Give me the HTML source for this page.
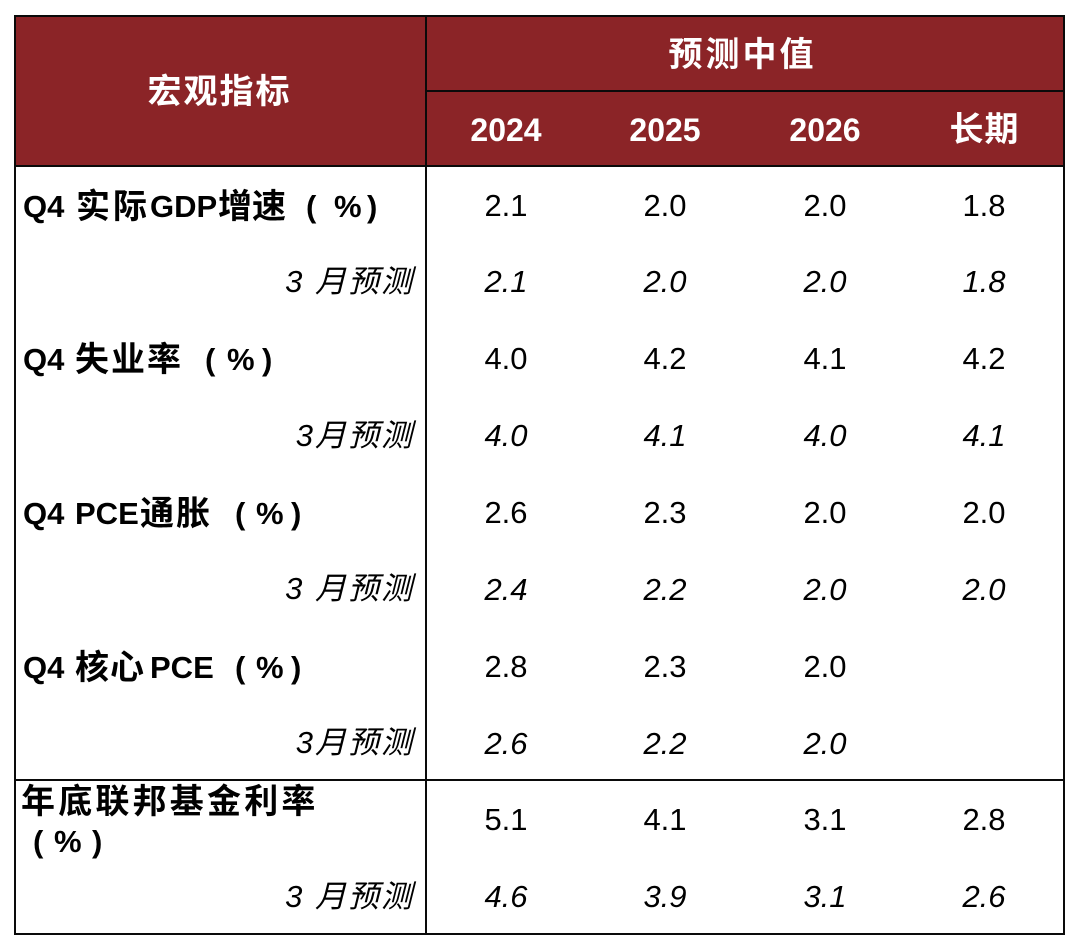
<!DOCTYPE html>
<html>
<head>
<meta charset="utf-8">
<style>
  html, body { margin:0; padding:0; background:#ffffff; }
  body { width:1080px; height:948px; position:relative; overflow:hidden;
         font-family:"Liberation Sans","Noto Sans CJK SC",sans-serif; color:#000; }
  .hdr { position:absolute; left:14px; top:15px; width:1051px; height:152px; background:#8B2427; }
  .ln { position:absolute; background:#0a0a0a; }
  .t { position:absolute; height:40px; line-height:40px; white-space:nowrap; }
  .h { color:#fff; font-weight:bold; font-size:34px; text-align:center; }
  .y { font-size:32px; }
  .b { position:absolute; height:40px; line-height:40px; white-space:nowrap; font-weight:bold; }
  .L { font-size:31px; }
  .K { font-size:34px; }
  .fc { font-style:italic; font-size:31px; letter-spacing:2px; right:666px; width:300px; text-align:right; }
  .v { font-size:31px; width:140px; text-align:center; }
  .i { font-style:italic; }
  .c1 { left:436px; } .c2 { left:595px; } .c3 { left:755px; } .c4 { left:914px; }
</style>
</head>
<body>
<div class="hdr"></div>

<!-- lines -->
<div class="ln" style="left:14px;top:15px;width:1051px;height:2px;"></div>
<div class="ln" style="left:14px;top:933px;width:1051px;height:2px;"></div>
<div class="ln" style="left:14px;top:15px;width:2px;height:920px;"></div>
<div class="ln" style="left:1063px;top:15px;width:2px;height:920px;"></div>
<div class="ln" style="left:425px;top:15px;width:2px;height:920px;"></div>
<div class="ln" style="left:426px;top:90px;width:639px;height:2px;"></div>
<div class="ln" style="left:14px;top:165px;width:1051px;height:2px;"></div>
<div class="ln" style="left:14px;top:779px;width:1051px;height:2px;"></div>

<!-- header text -->
<div class="t h" style="left:14px;width:409px;top:72px;letter-spacing:2px;text-indent:2px;">宏观指标</div>
<div class="t h" style="left:423px;width:636px;top:35px;letter-spacing:3px;text-indent:3px;">预测中值</div>
<div class="t h y c1" style="width:140px;top:110px;">2024</div>
<div class="t h y c2" style="width:140px;top:110px;">2025</div>
<div class="t h y c3" style="width:140px;top:110px;">2026</div>
<div class="t h c4" style="width:140px;top:110px;letter-spacing:1px;text-indent:1px;">长期</div>

<!-- label: Q4 实际GDP增速（%） -->
<div class="b L" style="left:23px;top:187px;">Q4</div>
<div class="b K" style="left:76px;top:187px;letter-spacing:3px;">实际</div>
<div class="b L" style="left:150px;top:187px;">GDP</div>
<div class="b K" style="left:218px;top:187px;">增速</div>
<div class="b L" style="left:306px;top:187px;">(</div>
<div class="b L" style="left:334px;top:187px;">%</div>
<div class="b L" style="left:367px;top:187px;">)</div>

<!-- label: Q4 失业率（%） -->
<div class="b L" style="left:23px;top:340px;">Q4</div>
<div class="b K" style="left:75px;top:340px;letter-spacing:2px;">失业率</div>
<div class="b L" style="left:205px;top:340px;">(</div>
<div class="b L" style="left:227px;top:340px;">%</div>
<div class="b L" style="left:262px;top:340px;">)</div>

<!-- label: Q4 PCE通胀（%） -->
<div class="b L" style="left:23px;top:494px;">Q4</div>
<div class="b L" style="left:75px;top:494px;">PCE</div>
<div class="b K" style="left:140px;top:494px;letter-spacing:2px;">通胀</div>
<div class="b L" style="left:235px;top:494px;">(</div>
<div class="b L" style="left:256px;top:494px;">%</div>
<div class="b L" style="left:291px;top:494px;">)</div>

<!-- label: Q4 核心PCE（%） -->
<div class="b L" style="left:23px;top:648px;">Q4</div>
<div class="b K" style="left:75px;top:648px;letter-spacing:1px;">核心</div>
<div class="b L" style="left:150px;top:648px;">PCE</div>
<div class="b L" style="left:235px;top:648px;">(</div>
<div class="b L" style="left:256px;top:648px;">%</div>
<div class="b L" style="left:291px;top:648px;">)</div>

<!-- label: 年底联邦基金利率（%） -->
<div class="b K" style="left:21px;top:782px;letter-spacing:3.2px;">年底联邦基金利率</div>
<div class="b L" style="left:33px;top:822px;">(</div>
<div class="b L" style="left:54px;top:822px;">%</div>
<div class="b L" style="left:92px;top:822px;">)</div>

<!-- forecast labels -->
<div class="t fc" style="top:262px;">3 月预测</div>
<div class="t fc" style="top:416px;">3月预测</div>
<div class="t fc" style="top:569px;">3 月预测</div>
<div class="t fc" style="top:723px;">3月预测</div>
<div class="t fc" style="top:877px;">3 月预测</div>

<!-- values row 0 -->
<div class="t v c1" style="top:186px;">2.1</div>
<div class="t v c2" style="top:186px;">2.0</div>
<div class="t v c3" style="top:186px;">2.0</div>
<div class="t v c4" style="top:186px;">1.8</div>
<!-- row 1 -->
<div class="t v i c1" style="top:262px;">2.1</div>
<div class="t v i c2" style="top:262px;">2.0</div>
<div class="t v i c3" style="top:262px;">2.0</div>
<div class="t v i c4" style="top:262px;">1.8</div>
<!-- row 2 -->
<div class="t v c1" style="top:339px;">4.0</div>
<div class="t v c2" style="top:339px;">4.2</div>
<div class="t v c3" style="top:339px;">4.1</div>
<div class="t v c4" style="top:339px;">4.2</div>
<!-- row 3 -->
<div class="t v i c1" style="top:416px;">4.0</div>
<div class="t v i c2" style="top:416px;">4.1</div>
<div class="t v i c3" style="top:416px;">4.0</div>
<div class="t v i c4" style="top:416px;">4.1</div>
<!-- row 4 -->
<div class="t v c1" style="top:493px;">2.6</div>
<div class="t v c2" style="top:493px;">2.3</div>
<div class="t v c3" style="top:493px;">2.0</div>
<div class="t v c4" style="top:493px;">2.0</div>
<!-- row 5 -->
<div class="t v i c1" style="top:570px;">2.4</div>
<div class="t v i c2" style="top:570px;">2.2</div>
<div class="t v i c3" style="top:570px;">2.0</div>
<div class="t v i c4" style="top:570px;">2.0</div>
<!-- row 6 -->
<div class="t v c1" style="top:647px;">2.8</div>
<div class="t v c2" style="top:647px;">2.3</div>
<div class="t v c3" style="top:647px;">2.0</div>
<!-- row 7 -->
<div class="t v i c1" style="top:724px;">2.6</div>
<div class="t v i c2" style="top:724px;">2.2</div>
<div class="t v i c3" style="top:724px;">2.0</div>
<!-- row 8 -->
<div class="t v c1" style="top:800px;">5.1</div>
<div class="t v c2" style="top:800px;">4.1</div>
<div class="t v c3" style="top:800px;">3.1</div>
<div class="t v c4" style="top:800px;">2.8</div>
<!-- row 9 -->
<div class="t v i c1" style="top:877px;">4.6</div>
<div class="t v i c2" style="top:877px;">3.9</div>
<div class="t v i c3" style="top:877px;">3.1</div>
<div class="t v i c4" style="top:877px;">2.6</div>
</body>
</html>
